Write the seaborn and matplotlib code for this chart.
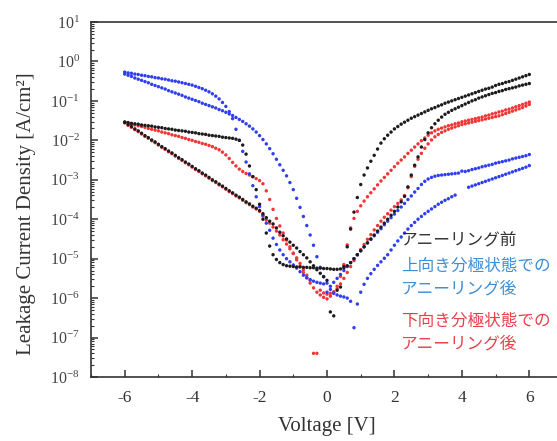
import numpy as np
import pandas as pd
import seaborn as sns
import matplotlib
matplotlib.use("Agg")
import matplotlib.pyplot as plt
from matplotlib.ticker import LogLocator, MultipleLocator, NullFormatter

# Sweep voltages [V]
volts = [
    -6.0, -5.9, -5.8, -5.7, -5.6, -5.5, -5.4, -5.3, -5.2, -5.1,
    -5.0, -4.9, -4.8, -4.7, -4.6, -4.5, -4.4, -4.3, -4.2, -4.1,
    -4.0, -3.9, -3.8, -3.7, -3.6, -3.5, -3.4, -3.3, -3.2, -3.1,
    -3.0, -2.9, -2.8, -2.7, -2.6, -2.5, -2.4, -2.3, -2.2, -2.1,
    -2.0, -1.9, -1.8, -1.7, -1.6, -1.5, -1.4, -1.3, -1.2, -1.1,
    -1.0, -0.9, -0.8, -0.7, -0.6, -0.5, -0.4, -0.3, -0.2, -0.1,
    0.0, 0.1, 0.2, 0.3, 0.4, 0.5, 0.6, 0.7, 0.8, 0.9,
    1.0, 1.1, 1.2, 1.3, 1.4, 1.5, 1.6, 1.7, 1.8, 1.9,
    2.0, 2.1, 2.2, 2.3, 2.4, 2.5, 2.6, 2.7, 2.8, 2.9,
    3.0, 3.1, 3.2, 3.3, 3.4, 3.5, 3.6, 3.7, 3.8, 3.9,
    4.0, 4.1, 4.2, 4.3, 4.4, 4.5, 4.6, 4.7, 4.8, 4.9,
    5.0, 5.1, 5.2, 5.3, 5.4, 5.5, 5.6, 5.7, 5.8, 5.9,
    6.0,
]

# log10 of leakage current density [A/cm^2], one value per sweep voltage
# Before annealing: branch with plateau and switching near -2.6 V
black_a = [
    -1.54, -1.55, -1.57, -1.58, -1.59, -1.61, -1.62, -1.63, -1.64, -1.66,
    -1.67, -1.68, -1.70, -1.71, -1.72, -1.74, -1.75, -1.76, -1.77, -1.79,
    -1.80, -1.81, -1.83, -1.84, -1.85, -1.87, -1.88, -1.89, -1.90, -1.92,
    -1.93, -1.94, -1.95, -1.97, -2.00, -2.12, -2.35, -2.65, -2.92, -3.25,
    -3.62, -4.00, -4.35, -4.68, -4.90, -5.02, -5.10, -5.15, -5.18, -5.19,
    -5.20, -5.21, -5.21, -5.22, -5.22, -5.23, -5.23, -5.24, -5.24, -5.25,
    -5.25, -5.26, -5.27, -5.27, -5.26, -5.23, -5.18, -5.10, -5.00, -4.90,
    -4.80, -4.70, -4.60, -4.50, -4.40, -4.30, -4.20, -4.10, -4.00, -3.90,
    -3.80, -3.69, -3.56, -3.42, -3.18, -2.88, -2.63, -2.42, -2.17, -1.98,
    -1.81, -1.68, -1.58, -1.49, -1.41, -1.34, -1.29, -1.24, -1.20, -1.16,
    -1.12, -1.08, -1.04, -1.00, -0.97, -0.93, -0.90, -0.87, -0.84, -0.81,
    -0.79, -0.76, -0.74, -0.71, -0.69, -0.67, -0.65, -0.62, -0.60, -0.58,
    -0.56,
]
# Before annealing: straight branch, switching near +0.6 V
black_b = [
    -1.54, -1.60, -1.65, -1.71, -1.76, -1.82, -1.88, -1.93, -1.99, -2.04,
    -2.10, -2.16, -2.21, -2.27, -2.32, -2.38, -2.44, -2.49, -2.55, -2.60,
    -2.66, -2.72, -2.77, -2.83, -2.88, -2.94, -3.00, -3.05, -3.11, -3.16,
    -3.22, -3.28, -3.33, -3.39, -3.44, -3.50, -3.56, -3.61, -3.67, -3.72,
    -3.78, -3.86, -3.96, -4.05, -4.12, -4.22, -4.33, -4.42, -4.50, -4.58,
    -4.66, -4.73, -4.82, -4.90, -4.98, -5.08, -5.18, -5.28, -5.37, -5.46,
    -5.55, -6.35, -6.45, -5.80, -5.72, -5.20, -4.70, -4.25, -3.82, -3.45,
    -3.12, -2.88, -2.70, -2.53, -2.38, -2.22, -2.07, -1.96, -1.87, -1.79,
    -1.71, -1.65, -1.59, -1.54, -1.49, -1.44, -1.40, -1.36, -1.32, -1.28,
    -1.24, -1.20, -1.17, -1.13, -1.10, -1.06, -1.03, -1.00, -0.97, -0.94,
    -0.91, -0.88, -0.85, -0.82, -0.79, -0.76, -0.73, -0.70, -0.68, -0.65,
    -0.61, -0.58, -0.56, -0.53, -0.51, -0.48, -0.45, -0.42, -0.39, -0.36,
    -0.33,
]
# Annealed in the upward-polarised state
blue_a = [
    -0.27, -0.29, -0.30, -0.32, -0.33, -0.35, -0.36, -0.38, -0.39, -0.41,
    -0.42, -0.44, -0.45, -0.47, -0.49, -0.50, -0.52, -0.54, -0.56, -0.58,
    -0.60, -0.63, -0.66, -0.69, -0.73, -0.77, -0.82, -0.88, -0.95, -1.04,
    -1.14, -1.27, -1.45, -1.72, -2.00, -2.28, -2.55, -2.85, -3.15, -3.43,
    -3.68, -3.90, -4.10, -4.28, -4.48, -4.64, -4.78, -4.90, -5.00, -5.08,
    -5.16, -5.24, -5.33, -5.42, -5.48, -5.53, -5.57, -5.60, -5.62, -5.64,
    -5.85, -5.70, -5.60, -5.50, -5.40, -5.30, -5.20, -5.10, -5.00, -4.90,
    -4.80, -4.70, -4.60, -4.51, -4.42, -4.33, -4.24, -4.14, -4.05, -3.96,
    -3.87, -3.78, -3.69, -3.60, -3.50, -3.41, -3.31, -3.22, -3.12, -3.04,
    -2.98, -2.94, -2.91, -2.89, -2.88, -2.87, -2.86, -2.85, -2.84, -2.83,
    -2.78, -2.79, -2.77, -2.74, -2.72, -2.70, -2.67, -2.65, -2.63, -2.61,
    -2.58, -2.56, -2.54, -2.52, -2.50, -2.47, -2.45, -2.43, -2.41, -2.39,
    -2.36,
]
blue_b = [
    -0.32, -0.35, -0.38, -0.42, -0.45, -0.48, -0.51, -0.54, -0.58, -0.61,
    -0.64, -0.67, -0.70, -0.74, -0.77, -0.80, -0.83, -0.86, -0.90, -0.93,
    -0.96, -0.99, -1.02, -1.06, -1.09, -1.12, -1.15, -1.18, -1.22, -1.25,
    -1.29, -1.33, -1.37, -1.42, -1.47, -1.52, -1.58, -1.64, -1.71, -1.79,
    -1.88, -1.98, -2.09, -2.21, -2.34, -2.48, -2.62, -2.76, -2.90, -3.07,
    -3.25, -3.47, -3.70, -3.93, -4.16, -4.40, -4.66, -4.95, -5.22, -5.45,
    -5.62, -5.78, -5.88, -5.92, -5.95, -5.97, -6.00, -6.08, -6.75, -6.15,
    -5.85, -5.65, -5.50, -5.38, -5.27, -5.17, -5.08, -4.99, -4.90, -4.78,
    -4.66, -4.55, -4.45, -4.35, -4.25, -4.16, -4.08, -4.00, -3.93, -3.86,
    -3.80, -3.74, -3.68, -3.62, -3.57, -3.52, -3.48, -3.43, -3.39, np.nan,
    np.nan, np.nan, -3.19, -3.16, -3.13, -3.10, -3.07, -3.04, -3.01, -2.98,
    -2.95, -2.92, -2.89, -2.86, -2.83, -2.80, -2.77, -2.74, -2.71, -2.68,
    -2.64,
]
# Annealed in the downward-polarised state
red_a = [
    -1.54, -1.56, -1.58, -1.61, -1.63, -1.65, -1.67, -1.70, -1.72, -1.74,
    -1.76, -1.79, -1.81, -1.83, -1.86, -1.88, -1.90, -1.93, -1.95, -1.98,
    -2.00, -2.03, -2.05, -2.08, -2.10, -2.13, -2.16, -2.20, -2.24, -2.30,
    -2.37, -2.46, -2.56, -2.65, -2.73, -2.79, -2.84, -2.88, -2.92, -2.97,
    -3.02, -3.10, -3.28, -3.50, -3.75, -3.98, -4.17, -4.35, -4.53, -4.70,
    -4.87, -5.03, -5.19, -5.35, -5.49, -5.62, -5.74, -5.85, -5.92, -5.98,
    -6.02, -5.95, -5.85, -5.70, -5.45, -5.15, -4.65, -4.22, -3.98, -3.80,
    -3.66, -3.54, -3.43, -3.33, -3.23, -3.13, -3.03, -2.94, -2.85, -2.76,
    -2.67, -2.58, -2.50, -2.42, -2.33, -2.25, -2.17, -2.09, -2.01, -1.94,
    -1.87, -1.81, -1.76, -1.72, -1.69, -1.66, -1.63, -1.61, -1.58, -1.56,
    -1.53, -1.51, -1.49, -1.47, -1.45, -1.43, -1.41, -1.38, -1.36, -1.33,
    -1.31, -1.28, -1.26, -1.23, -1.21, -1.18, -1.15, -1.12, -1.09, -1.06,
    -1.03,
]
red_b = [
    -1.56, -1.62, -1.67, -1.73, -1.78, -1.84, -1.90, -1.95, -2.01, -2.06,
    -2.12, -2.18, -2.23, -2.29, -2.34, -2.40, -2.46, -2.51, -2.57, -2.62,
    -2.68, -2.74, -2.79, -2.85, -2.90, -2.96, -3.02, -3.07, -3.13, -3.18,
    -3.24, -3.30, -3.35, -3.41, -3.46, -3.52, -3.58, -3.63, -3.69, -3.74,
    -3.80, -3.92, -4.02, -4.10, -4.20, -4.30, -4.40, -4.52, -4.63, -4.75,
    -4.86, -4.98, -5.12, -5.28, -5.42, -5.55, -7.40, -7.40, -5.80, -5.87,
    -5.90, -5.88, -5.84, -5.76, -5.64, -5.50, -5.35, -5.20, -5.05, -4.90,
    -4.77, -4.64, -4.51, -4.39, -4.27, -4.16, -4.05, -3.95, -3.86, -3.77,
    -3.68, -3.60, -3.51, -3.40, -3.20, -2.92, -2.66, -2.48, -2.33, -2.20,
    -2.09, -1.99, -1.91, -1.85, -1.80, -1.76, -1.72, -1.69, -1.66, -1.63,
    -1.60, -1.58, -1.56, -1.54, -1.52, -1.50, -1.48, -1.46, -1.44, -1.42,
    -1.40, -1.38, -1.35, -1.32, -1.29, -1.26, -1.23, -1.20, -1.17, -1.13,
    -1.09,
]

labels = ["アニーリング前", "上向き分極状態での\nアニーリング後", "下向き分極状態での\nアニーリング後"]
dot_colors = {labels[0]: "#1c1c1c", labels[1]: "#2f3ff0", labels[2]: "#f23535"}
text_colors = [("#333333", 241), ("#3d8fd6", 278), ("#e8414c", 333)]

# Long-form table; red first so black ends up drawn on top
frames = []
for lab, branches in [(labels[2], [red_a, red_b]),
                      (labels[1], [blue_a, blue_b]),
                      (labels[0], [black_a, black_b])]:
    for br in branches:
        frames.append(pd.DataFrame({"V": volts, "logJ": br, "group": lab}))
df = pd.concat(frames, ignore_index=True).dropna()
df["J"] = 10.0 ** df["logJ"]

sns.set_style("ticks")
plt.rcParams["font.family"] = ["Liberation Serif", "DejaVu Serif"]
plt.rcParams["axes.unicode_minus"] = False

W, H = 557, 441
fig = plt.figure(figsize=(W / 100, H / 100), dpi=100)
ax = fig.add_axes([91 / W, 64 / H, 472 / W, 355 / H])

sns.scatterplot(data=df, x="V", y="J", hue="group", palette=dot_colors,
                s=6, linewidth=0, legend=False, ax=ax, zorder=3)

ax.set_yscale("log")
ax.set_xlim(-7, 7)
ax.set_ylim(1e-8, 1e1)
ax.yaxis.set_major_locator(LogLocator(base=10, numticks=20))
ax.yaxis.set_minor_locator(LogLocator(base=10, subs=np.arange(2, 10), numticks=20))
ax.yaxis.set_minor_formatter(NullFormatter())
ax.xaxis.set_major_locator(MultipleLocator(2))
ax.xaxis.set_minor_locator(MultipleLocator(1))

for side in ["left", "bottom", "top"]:
    ax.spines[side].set_linewidth(1.2)
    ax.spines[side].set_color("#333333")
ax.spines["right"].set_visible(False)

ax.tick_params(which="major", direction="in", length=5, width=1.1,
               color="#333333", top=False, right=False)
ax.tick_params(which="minor", direction="in", length=2.5, width=0.8,
               color="#333333", top=False, right=False)
ax.tick_params(axis="x", labelsize=12.5, labelcolor="#333333", pad=9)
ax.tick_params(axis="y", labelsize=11.5, labelcolor="#444444", pad=8)

ax.set_xlabel("Voltage [V]", fontsize=15, color="#333333", labelpad=8)
ax.set_ylabel("Leakage Current Density [A/cm²]", fontsize=15,
              color="#333333")
ax.yaxis.set_label_coords(-0.117, 0.459)

for lab, (col, ypix) in zip(labels, text_colors):
    fig.text(401 / W, 1 - ypix / H, lab, color=col, fontsize=12,
             family=["Noto Sans CJK JP", "DejaVu Sans"], va="center",
             ha="left", linespacing=1.45)

fig.savefig("out.png", dpi=100)
